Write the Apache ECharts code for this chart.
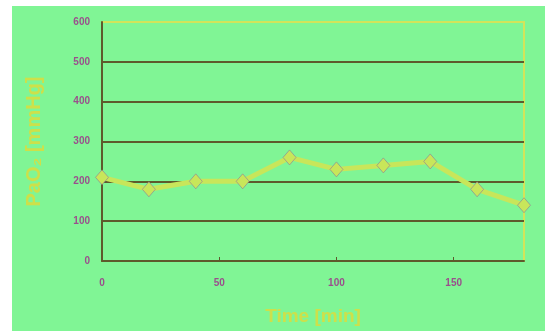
<!DOCTYPE html>
<html>
<head>
<meta charset="utf-8">
<style>
  html, body { margin: 0; padding: 0; background: #ffffff; }
  #chart { position: absolute; left: 12px; top: 6px; width: 533px; height: 325px; background: #80f595; }
</style>
<script src="https://cdn.jsdelivr.net/npm/echarts@6/dist/echarts.min.js"></script>
</head>
<body>
<div id="chart"></div>
<script>
// Arterial oxygen tension over time
const timeMin = [0, 20, 40, 60, 80, 100, 120, 140, 160, 180];
const pao2 = [210, 180, 200, 200, 260, 230, 240, 250, 180, 140];
const xTicks = [0, 50, 100, 150];
const yTicks = [0, 100, 200, 300, 400, 500, 600];

const chart = echarts.init(document.getElementById('chart'));
chart.setOption({
  backgroundColor: '#80f595',
  animation: false,
  textStyle: { fontFamily: 'sans-serif' },
  grid: {
    left: 90, right: 21, top: 16, bottom: 69,
    show: true, borderColor: '#d2e45a', borderWidth: 2, backgroundColor: 'transparent'
  },
  xAxis: {
    type: 'value', min: 0, max: 180, interval: 50,
    name: 'Time [min]', nameLocation: 'middle', nameGap: 46,
    nameTextStyle: { color: '#cde04a', fontSize: 19, fontWeight: 'bold', fontFamily: 'sans-serif' },
    axisLine: { show: true, lineStyle: { color: '#5e5a2c', width: 2 } },
    axisTick: { show: true, inside: true, length: 4, customValues: xTicks, lineStyle: { color: '#5e5a2c' } },
    axisLabel: {
      color: '#9a4f8c', fontSize: 10, fontWeight: 'bold', margin: 17,
      customValues: xTicks, fontFamily: 'sans-serif'
    },
    splitLine: { show: false }
  },
  yAxis: {
    type: 'value', min: 0, max: 600, interval: 100,
    name: 'PaO\u2082 [mmHg]', nameLocation: 'middle', nameGap: 58, nameRotate: 90,
    nameTextStyle: { color: '#cde04a', fontSize: 20, fontWeight: 'bold', fontFamily: 'sans-serif' },
    axisLine: { show: true, lineStyle: { color: '#5e5a2c', width: 2 } },
    axisTick: { show: false },
    axisLabel: { color: '#9a4f8c', fontSize: 10, fontWeight: 'bold', margin: 12, customValues: yTicks, fontFamily: 'sans-serif' },
    splitLine: {
      show: true, showMinLine: false, showMaxLine: false,
      lineStyle: { color: '#5e5a2c', width: 2 }
    }
  },
  series: [{
    type: 'line',
    data: timeMin.map((t, i) => [t, pao2[i]]),
    lineStyle: { color: '#c8e65a', width: 5 },
    itemStyle: { color: '#c8e65a', borderColor: '#8a7a9a', borderWidth: 0.6 },
    symbol: 'diamond', symbolSize: [13, 15],
    clip: false
  }]
});
</script>
</body>
</html>
